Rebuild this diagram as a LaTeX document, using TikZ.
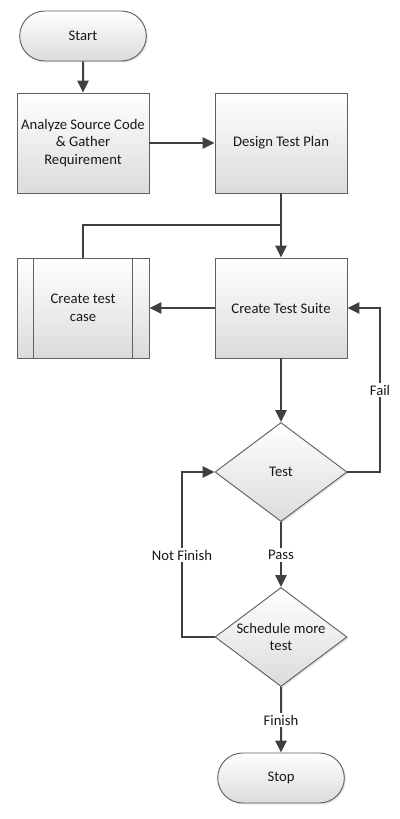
\documentclass[tikz,border=0pt]{standalone}
\usepackage{fontspec}
\setmainfont{Carlito}
\usetikzlibrary{arrows.meta,shapes.geometric,shapes.misc,shadows}
\begin{document}
\begin{tikzpicture}[x=0.75pt,y=-0.75pt,
  font=\fontsize{11}{13.4}\selectfont,
  shapebase/.style={draw=black!62, line width=0.7pt, top color=white, bottom color=black!14,
    drop shadow={shadow xshift=1.1pt,shadow yshift=-1.1pt,opacity=0.22}, align=center, text=black!90},
  box/.style={shapebase, rectangle, minimum width=99pt, minimum height=75pt, inner sep=2pt},
  term/.style={shapebase, rounded rectangle, minimum width=99pt, minimum height=37.5pt, inner sep=2pt},
  dec/.style={shapebase, diamond, aspect=1.333, minimum width=99pt, minimum height=74.25pt, inner sep=0pt},
  link/.style={draw=black!75, line width=1.5pt},
  conn/.style={link, -{Triangle[length=9pt,width=8.5pt]}},
  lbl/.style={fill=white, inner sep=1.5pt, text=black!90}
]
\useasboundingbox (0,0) rectangle (400,819);
\fill[white] (0,0) rectangle (400,819);

\node[term] (start) at (83,36) {Start};
\node[box] (analyze) at (83,143) {Analyze Source Code\\\& Gather\\Requirement};
\node[box] (design) at (281,143) {Design Test Plan};
\node[box] (tc) at (83,308) {Create test\\case};
\draw[draw=black!62, line width=0.7pt] ([xshift=12.75pt]tc.north west) -- ([xshift=12.75pt]tc.south west);
\draw[draw=black!62, line width=0.7pt] ([xshift=-12.75pt]tc.north east) -- ([xshift=-12.75pt]tc.south east);
\node[box] (suite) at (281,308) {Create Test Suite};
\node[dec] (test) at (281,472) {Test};
\node[dec] (sched) at (281,637) {Schedule more\\test};
\node[term] (stop) at (281,778) {Stop};

\coordinate (j1) at (83,225);
\coordinate (j2) at (281,225);
\coordinate (fr) at (380,472);
\coordinate (nf) at (182,637);

\draw[conn] (start) -- (analyze);
\draw[conn] (analyze) -- (design);
\draw[conn] (design) -- (suite);
\draw[link] (tc.north) -- (j1) -- (j2);
\draw[conn] (suite) -- (tc);
\draw[conn] (suite) -- (test);
\draw[conn] (test.east) -- (fr) |- (suite.east);
\draw[conn] (test) -- (sched);
\draw[conn] (sched.west) -- (nf) |- (test.west);
\draw[conn] (sched) -- (stop);

\node[lbl] (fail) at (380,390) {Fail};
\node[lbl] (pass) at (281,555) {Pass};
\node[lbl] (notfin) at (182,555) {Not Finish};
\node[lbl] (finish) at (281,720) {Finish};
\end{tikzpicture}
\end{document}
